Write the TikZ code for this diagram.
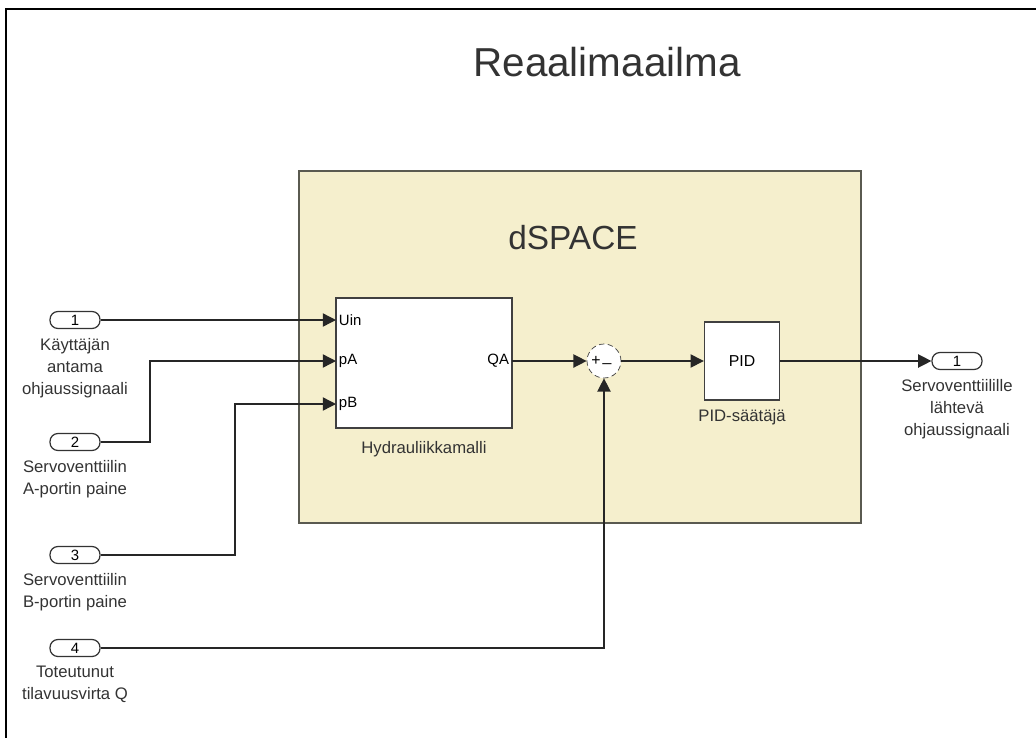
\documentclass[tikz,border=0pt]{standalone}
\usepackage{fontspec}
\setmainfont{Liberation Sans}
\usetikzlibrary{arrows.meta,positioning}
\definecolor{dsfill}{RGB}{245,239,205}
\definecolor{dsline}{RGB}{90,90,80}
\tikzset{
  sig/.style={line width=0.8pt,color=black!85,-{Triangle[length=7.5pt,width=7.5pt]}},
  port/.style={draw=black!80,line width=0.7pt,rounded corners=4.5pt,minimum width=1cm,minimum height=0.34cm,inner sep=0pt,font=\fontsize{8.5}{8.5}\selectfont},
  blk/.style={draw=black!75,line width=0.8pt,fill=white,inner sep=0pt},
  plbl/.style={font=\fontsize{8.5}{9}\selectfont,inner sep=1.5pt},
  desc/.style={font=\fontsize{9.5}{12.5}\selectfont,align=center,text=black!80,inner sep=0pt}
}
\begin{document}
\begin{tikzpicture}[x=0.02cm,y=-0.02cm]
		\useasboundingbox (0,0) rectangle (1036,738);
		\draw[line width=1.3pt] (6,800) -- (6,9) -- (1100,9);
		\node[font=\fontsize{23}{23}\selectfont,text=black!80] (title) at (607,62) {Reaalimaailma};
		% dSPACE subsystem
		\node[draw=dsline,line width=0.9pt,fill=dsfill,minimum width=11.24cm,minimum height=7.04cm] (ds) at (580,347) {};
		\node[font=\fontsize{19}{19}\selectfont,text=black!80] (dslbl) at (573,238) {dSPACE};
		\node[blk,minimum width=3.52cm,minimum height=2.6cm] (hyd) at (424,363) {};
		\node[plbl,anchor=west] (uin) at (336,320) {Uin};
		\node[plbl,anchor=west] (pa) at (336,361) {pA};
		\node[plbl,anchor=west] (pb) at (336,404) {pB};
		\node[plbl,anchor=east] (qa) at (512,361) {QA};
		\node[desc,below=7pt of hyd] (hydlbl) {Hydrauliikkamalli};
		\node[circle,draw=black!75,densely dashed,thin,fill=white,minimum size=0.68cm,inner sep=0pt] (sum) at (604,361) {};
		\node[font=\fontsize{9}{9}\selectfont,inner sep=0pt] at (596,361) {+};
		\node[font=\fontsize{9}{9}\selectfont,inner sep=0pt] at (607,363) {\_};
		\node[blk,minimum width=1.5cm,minimum height=1.56cm,font=\fontsize{9}{9}\selectfont] (pid) at (742,361) {PID};
		\node[desc,below=5pt of pid] (pidlbl) {PID-säätäjä};
		% ports
		\node[port] (in1) at (75,320) {1};
		\node[desc,below=5pt of in1] {Käyttäjän\\antama\\ohjaussignaali};
		\node[port] (in2) at (75,442) {2};
		\node[desc,below=5pt of in2] {Servoventtiilin\\A-portin paine};
		\node[port] (in3) at (75,555) {3};
		\node[desc,below=5pt of in3] {Servoventtiilin\\B-portin paine};
		\node[port] (in4) at (75,648) {4};
		\node[desc,below=5pt of in4] {Toteutunut\\tilavuusvirta Q};
		\node[port] (out1) at (957,361) {1};
		\node[desc,below=5pt of out1] {Servoventtiilille\\lähtevä\\ohjaussignaali};
		% signals
		\draw[sig] (in1) -- (uin.west);
		\draw[sig] (in2) -- ++(75,0) |- (pa.west);
		\draw[sig] (in3) -- ++(160,0) |- (pb.west);
		\draw[sig] (in4) -| (sum.south);
		\draw[sig] (qa.east) -- (sum.west);
		\draw[sig] (sum.east) -- (pid.west);
		\draw[sig] (pid.east) -- (out1.west);
	\end{tikzpicture}
\end{document}
